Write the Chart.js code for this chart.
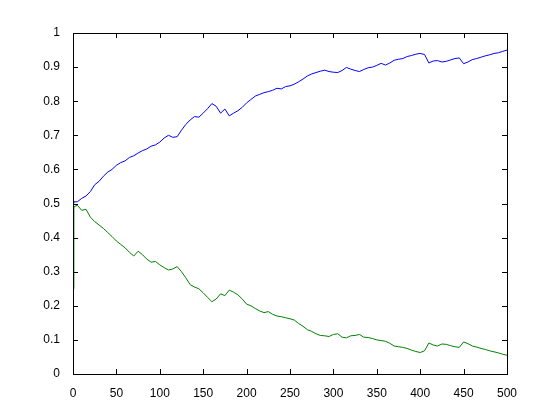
<!DOCTYPE html>
<html>
<head>
<meta charset="utf-8">
<script src="https://cdn.jsdelivr.net/npm/chart.js@4/dist/chart.umd.min.js"></script>
<style>
  html, body { margin: 0; padding: 0; background: #fff; }
  canvas { display: block; }
</style>
</head>
<body>
<canvas id="chart" width="560" height="420"></canvas>
<script>
// sample positions (x) shared by both series
const steps = [0, 1, 5, 10, 15, 20, 25, 30, 35, 40, 45, 50, 55, 60, 65, 70, 75, 80, 85, 90, 95,
  100, 105, 110, 115, 120, 125, 130, 135, 140, 145, 150, 155, 160, 165, 170, 175, 180, 185, 190, 195,
  200, 205, 210, 215, 220, 225, 230, 235, 240, 245, 250, 255, 260, 265, 270, 275, 280, 285, 290, 295,
  300, 305, 310, 315, 320, 325, 330, 335, 340, 345, 350, 355, 360, 365, 370, 375, 380, 385, 390, 395,
  400, 405, 410, 415, 420, 425, 430, 435, 440, 445, 450, 455, 460, 465, 470, 475, 480, 485, 490, 495, 500];

const blueVals = [0.500, 0.505, 0.505, 0.515, 0.522, 0.535, 0.555, 0.565, 0.580, 0.592, 0.600,
  0.612, 0.620, 0.625, 0.635, 0.640, 0.648, 0.655, 0.660, 0.668, 0.672,
  0.680, 0.692, 0.700, 0.694, 0.696, 0.715, 0.732, 0.745, 0.755, 0.753,
  0.765, 0.778, 0.793, 0.785, 0.765, 0.777, 0.757, 0.765, 0.772, 0.782,
  0.795, 0.805, 0.815, 0.820, 0.825, 0.828, 0.832, 0.838, 0.836, 0.843,
  0.845, 0.850, 0.857, 0.865, 0.874, 0.880, 0.884, 0.888, 0.891, 0.887,
  0.885, 0.884, 0.890, 0.899, 0.894, 0.890, 0.887, 0.893, 0.898, 0.900,
  0.905, 0.911, 0.906, 0.912, 0.920, 0.923, 0.925, 0.931, 0.934, 0.938,
  0.940, 0.937, 0.912, 0.918, 0.919, 0.915, 0.917, 0.921, 0.925, 0.927,
  0.910, 0.915, 0.922, 0.925, 0.929, 0.933, 0.936, 0.940, 0.942, 0.946, 0.950];

const greenVals = [0.250, 0.490, 0.495, 0.480, 0.483, 0.460, 0.447, 0.437, 0.427, 0.415, 0.403,
  0.390, 0.380, 0.370, 0.357, 0.346, 0.360, 0.350, 0.337, 0.328, 0.330,
  0.320, 0.312, 0.305, 0.308, 0.315, 0.300, 0.282, 0.262, 0.255, 0.250,
  0.238, 0.225, 0.212, 0.220, 0.235, 0.230, 0.246, 0.240, 0.232, 0.220,
  0.205, 0.200, 0.192, 0.185, 0.180, 0.183, 0.175, 0.170, 0.168, 0.165,
  0.162, 0.158, 0.148, 0.140, 0.130, 0.125, 0.118, 0.113, 0.112, 0.110,
  0.116, 0.118, 0.108, 0.106, 0.112, 0.113, 0.116, 0.108, 0.107, 0.104,
  0.100, 0.098, 0.096, 0.090, 0.082, 0.080, 0.078, 0.075, 0.070, 0.066,
  0.063, 0.068, 0.091, 0.085, 0.082, 0.088, 0.087, 0.083, 0.080, 0.078,
  0.094, 0.089, 0.082, 0.079, 0.075, 0.072, 0.068, 0.065, 0.062, 0.058, 0.055];

const xTickLabels = ['0', '50', '100', '150', '200', '250', '300', '350', '400', '450', '500'];
const yTickLabels = ['0', '0.1', '0.2', '0.3', '0.4', '0.5', '0.6', '0.7', '0.8', '0.9', '1'];

const toPoints = vals => steps.map((x, i) => ({ x: x, y: vals[i] }));

// matlab style box with ticks pointing inwards on all four sides
const boxTicks = {
  id: 'boxTicks',
  afterDatasetsDraw(chart) {
    const { ctx, chartArea: a, scales } = chart;
    const len = 5;
    ctx.save();
    ctx.strokeStyle = '#000';
    ctx.lineWidth = 1;
    ctx.beginPath();
    scales.x.ticks.forEach(t => {
      const px = Math.round(scales.x.getPixelForValue(t.value)) + 0.5;
      ctx.moveTo(px, a.bottom); ctx.lineTo(px, a.bottom - len);
      ctx.moveTo(px, a.top); ctx.lineTo(px, a.top + len);
    });
    scales.y.ticks.forEach(t => {
      const py = Math.round(scales.y.getPixelForValue(t.value)) + 0.5;
      ctx.moveTo(a.left, py); ctx.lineTo(a.left + len, py);
      ctx.moveTo(a.right, py); ctx.lineTo(a.right - len, py);
    });
    ctx.stroke();
    ctx.strokeRect(Math.round(a.left) + 0.5, Math.round(a.top) + 0.5,
      Math.round(a.right - a.left), Math.round(a.bottom - a.top));
    ctx.restore();
  }
};

new Chart(document.getElementById('chart'), {
  type: 'line',
  data: {
    datasets: [
      { data: toPoints(blueVals), borderColor: '#0000ff', borderWidth: 1, pointRadius: 0, tension: 0, fill: false },
      { data: toPoints(greenVals), borderColor: '#008000', borderWidth: 1, pointRadius: 0, tension: 0, fill: false }
    ]
  },
  options: {
    responsive: false,
    animation: false,
    devicePixelRatio: 1,
    layout: { padding: { top: 33, right: 53, left: 0, bottom: 0 } },
    plugins: { legend: { display: false }, tooltip: { enabled: false } },
    scales: {
      x: {
        type: 'linear', min: 0, max: 500,
        grid: { display: false },
        border: { display: false },
        afterFit: s => { s.height = 46; },
        ticks: {
          stepSize: 50, autoSkip: false, maxRotation: 0, padding: 4,
          color: '#000', font: { family: 'Liberation Sans, Arial, sans-serif', size: 12 },
          callback: (v, i) => xTickLabels[i]
        }
      },
      y: {
        type: 'linear', min: 0, max: 1,
        grid: { display: false },
        border: { display: false },
        afterFit: s => { s.width = 73; },
        ticks: {
          stepSize: 0.1, autoSkip: false, padding: 5,
          color: '#000', font: { family: 'Liberation Sans, Arial, sans-serif', size: 12 },
          callback: (v, i) => yTickLabels[i]
        }
      }
    }
  },
  plugins: [boxTicks]
});
</script>
</body>
</html>
